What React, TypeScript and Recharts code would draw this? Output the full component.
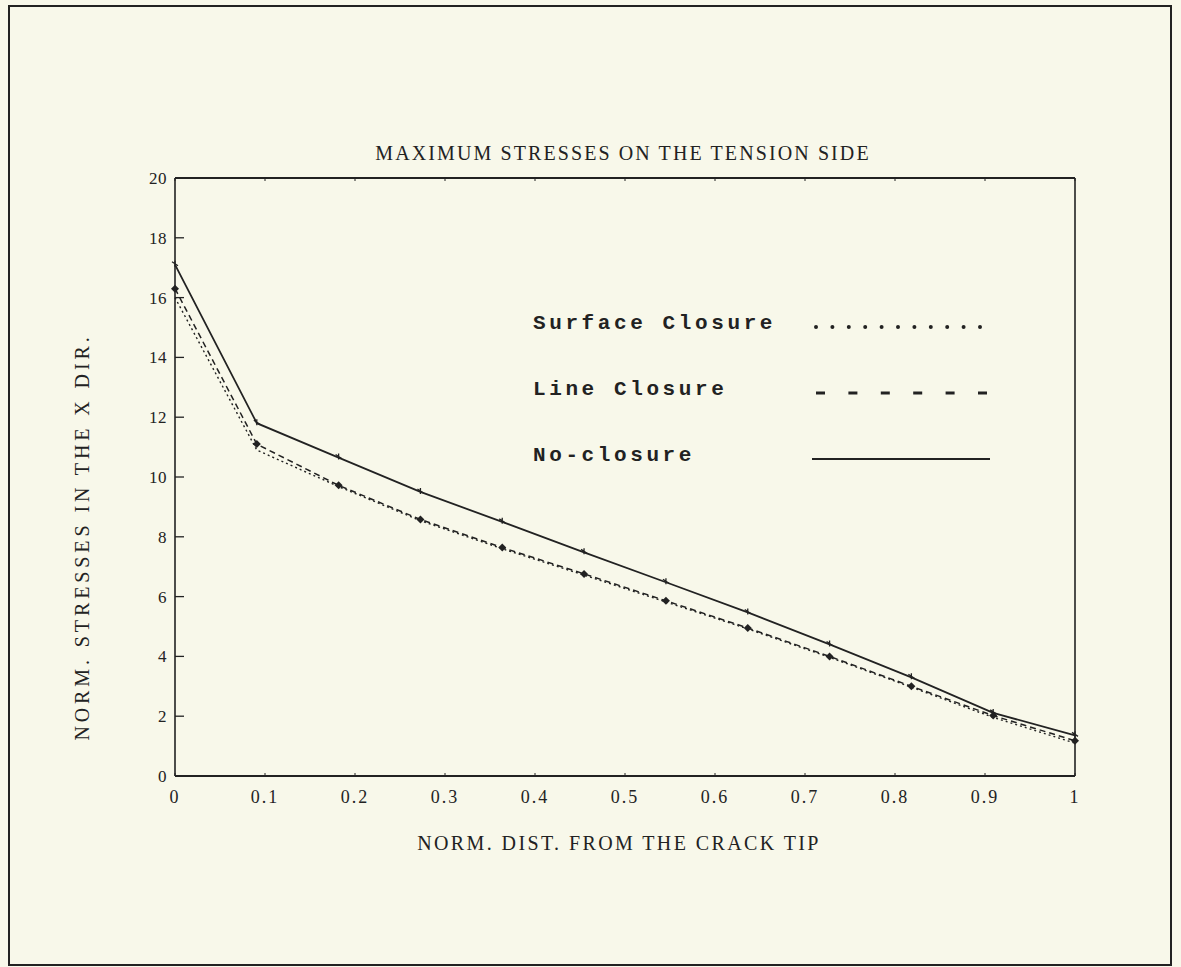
import { LineChart, Line, XAxis, YAxis } from "recharts"

// normalized distance from the crack tip (12 stations)
const dist = [0, 0.0909, 0.1818, 0.2727, 0.3636, 0.4545, 0.5455, 0.6364, 0.7273, 0.8182, 0.9091, 1]

const surfaceClosure = [16.0, 10.9, 9.68, 8.54, 7.6, 6.72, 5.82, 4.92, 3.97, 2.97, 1.96, 1.1]
const lineClosure = [16.3, 11.1, 9.72, 8.58, 7.64, 6.76, 5.86, 4.95, 4.0, 3.0, 2.02, 1.18]
const noClosure = [17.1, 11.8, 10.65, 9.5, 8.5, 7.48, 6.48, 5.47, 4.4, 3.3, 2.11, 1.36]

const xTicks = [0, 0.1, 0.2, 0.3, 0.4, 0.5, 0.6, 0.7, 0.8, 0.9, 1]
const yTicks = [0, 2, 4, 6, 8, 10, 12, 14, 16, 18, 20]

const data = dist.map((d, i) => ({
  d,
  surface: surfaceClosure[i],
  line: lineClosure[i],
  none: noClosure[i],
}))

const INK = "#222"
const BG = "#f8f8ea"
const SERIF = "'Liberation Serif', 'DejaVu Serif', serif"
const MONO = "'Liberation Mono', 'DejaVu Sans Mono', monospace"

const LeftTick = (props: any) => {
  const { x, y, payload } = props
  return (
    <g>
      <text x={x - 8} y={y} dy={6} textAnchor="end" fontFamily={SERIF} fontSize={17} letterSpacing={0.5} fill={INK}>
        {payload.value}
      </text>
      <line x1={x} x2={x + 9} y1={y} y2={y} stroke={INK} strokeWidth={1.3} />
    </g>
  )
}

const RightTick = (props: any) => {
  const { x, y } = props
  return <line x1={x - 9} x2={x} y1={y} y2={y} stroke={INK} strokeWidth={1.3} />
}

const BottomTick = (props: any) => {
  const { x, y, payload } = props
  return (
    <g>
      <text x={x} y={y + 27} textAnchor="middle" fontFamily={SERIF} fontSize={18} letterSpacing={2} fill={INK}>
        {payload.value}
      </text>
      <line x1={x} x2={x} y1={y - 3} y2={y} stroke={INK} strokeWidth={1} />
    </g>
  )
}

const TopTick = (props: any) => {
  const { x, y } = props
  return <line x1={x} x2={x} y1={y} y2={y + 3} stroke={INK} strokeWidth={1} />
}

const TickDot = (props: any) => {
  const { cx, cy, index } = props
  return (
    <path
      key={`n-${index}`}
      d={`M${cx - 3},${cy - 3}L${cx + 3},${cy + 1}M${cx},${cy - 4}L${cx},${cy + 2}`}
      stroke={INK}
      strokeWidth={1.3}
      fill="none"
    />
  )
}

const DiamondDot = (props: any) => {
  const { cx, cy, index } = props
  return (
    <path
      key={`l-${index}`}
      d={`M${cx},${cy - 4}L${cx + 4},${cy}L${cx},${cy + 4}L${cx - 4},${cy}Z`}
      fill={INK}
    />
  )
}

const legendRows = [
  { name: "Surface Closure", dash: "0 16.4", width: 4, cap: "round" as const },
  { name: "Line Closure", dash: "9 23.4", width: 3, cap: "butt" as const },
  { name: "No-closure", dash: undefined, width: 2, cap: "butt" as const },
]

export default function App() {
  return (
    <div style={{ position: "absolute", left: 0, top: 0, width: 1181, height: 967, background: BG, overflow: "hidden" }}>
      {/* outer frame */}
      <div style={{ position: "absolute", left: 8, top: 5, width: 1160, height: 957, border: `2px solid ${INK}` }} />

      <div
        style={{
          position: "absolute",
          left: 623,
          top: 153,
          transform: "translate(-50%, -50%)",
          whiteSpace: "nowrap",
          fontFamily: SERIF,
          fontSize: 20,
          color: INK,
          letterSpacing: 2.1,
        }}
      >
        MAXIMUM STRESSES ON THE TENSION SIDE
      </div>

      <div
        style={{
          position: "absolute",
          left: 619,
          top: 843,
          transform: "translate(-50%, -50%)",
          whiteSpace: "nowrap",
          fontFamily: SERIF,
          fontSize: 20,
          color: INK,
          letterSpacing: 2.4,
        }}
      >
        NORM. DIST. FROM THE CRACK TIP
      </div>

      <div
        style={{
          position: "absolute",
          left: 82,
          top: 537,
          transform: "translate(-50%, -50%) rotate(-90deg)",
          whiteSpace: "nowrap",
          fontFamily: SERIF,
          fontSize: 20,
          color: INK,
          letterSpacing: 3.9,
        }}
      >
        NORM. STRESSES IN THE X DIR.
      </div>

      <div style={{ position: "absolute", left: 0, top: 0 }}>
        <LineChart width={1181} height={967} data={data} margin={{ top: 177, right: 105, bottom: 190, left: 115 }}>
          <XAxis
            dataKey="d"
            type="number"
            domain={[0, 1]}
            ticks={xTicks}
            interval={0}
            height={1}
            tickSize={0}
            tickMargin={0}
            tickLine={false}
            tick={<BottomTick />}
            axisLine={{ stroke: INK, strokeWidth: 2 }}
          />
          <XAxis
            xAxisId="t"
            orientation="top"
            dataKey="d"
            type="number"
            domain={[0, 1]}
            ticks={xTicks}
            interval={0}
            height={1}
            tickSize={0}
            tickMargin={0}
            tickLine={false}
            tick={<TopTick />}
            axisLine={{ stroke: INK, strokeWidth: 2 }}
          />
          <YAxis
            type="number"
            domain={[0, 20]}
            ticks={yTicks}
            interval={0}
            width={60}
            tickSize={0}
            tickMargin={0}
            tickLine={false}
            tick={<LeftTick />}
            axisLine={{ stroke: INK, strokeWidth: 1.6 }}
          />
          <YAxis
            yAxisId="r"
            orientation="right"
            type="number"
            domain={[0, 20]}
            ticks={yTicks}
            interval={0}
            width={1}
            tickSize={0}
            tickMargin={0}
            tickLine={false}
            tick={<RightTick />}
            axisLine={{ stroke: INK, strokeWidth: 1.6 }}
          />
          <Line
            type="linear"
            dataKey="surface"
            stroke={INK}
            strokeWidth={1.4}
            strokeDasharray="2 3"
            dot={false}
            isAnimationActive={false}
          />
          <Line
            type="linear"
            dataKey="line"
            stroke={INK}
            strokeWidth={1.5}
            strokeDasharray="6 4"
            dot={DiamondDot}
            isAnimationActive={false}
          />
          <Line
            type="linear"
            dataKey="none"
            stroke={INK}
            strokeWidth={1.8}
            dot={TickDot}
            isAnimationActive={false}
          />
        </LineChart>
      </div>

      {/* legend */}
      {legendRows.map((r, i) => (
        <div key={r.name} style={{ position: "absolute", left: 533, top: 312 + i * 66, height: 28 }}>
          <span
            style={{
              fontFamily: MONO,
              fontSize: 21,
              fontWeight: "bold",
              letterSpacing: 3.6,
              color: INK,
              whiteSpace: "nowrap",
            }}
          >
            {r.name}
          </span>
          <svg width={190} height={10} style={{ position: "absolute", left: 277, top: 10 }}>
            <line
              x1={r.dash ? 6 : 2}
              x2={180}
              y1={5}
              y2={5}
              stroke={INK}
              strokeWidth={r.width}
              strokeDasharray={r.dash}
              strokeLinecap={r.cap}
            />
          </svg>
        </div>
      ))}
    </div>
  )
}
